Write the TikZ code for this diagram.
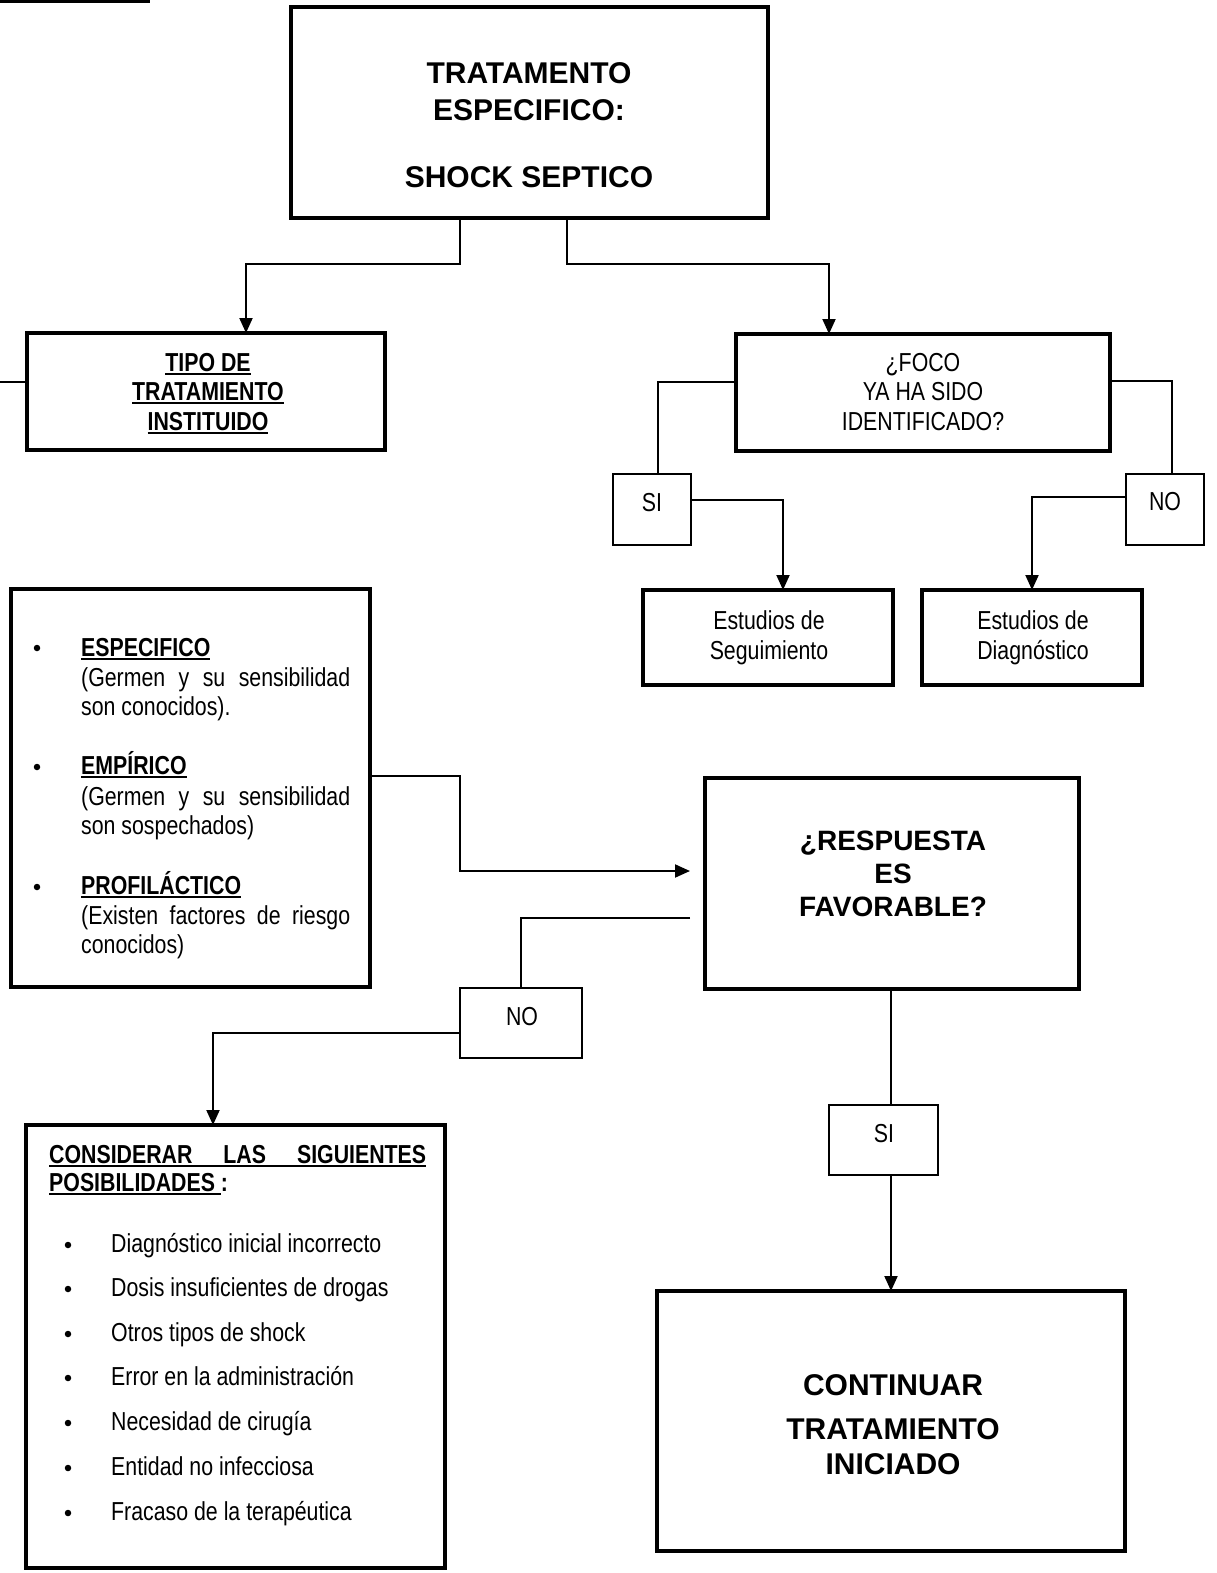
\documentclass[tikz,border=0pt]{standalone}
\usepackage{fontspec}
\setmainfont{Liberation Sans}
\newfontfamily\narrowfont[FakeStretch=0.82]{Liberation Sans}
\usetikzlibrary{arrows.meta}
% underline drawn as a heavier rule under the text
\newcommand\myul[1]{\setbox0\hbox{#1}\rlap{\rule[-4pt]{\wd0}{1.8pt}}\box0}

\begin{document}
\begin{tikzpicture}[x=1pt,y=-1pt,
  box/.style={draw, line width=3.2pt, inner sep=0, outer sep=0},
  tag/.style={draw, line width=1.6pt, inner sep=0, outer sep=0},
  conn/.style={line width=2pt},
  arr/.style={conn, -{Triangle[length=15pt,width=13pt]}},
  nt/.style={inner sep=0, anchor=base, font=\narrowfont\fontsize{26}{30}\selectfont},
  ntl/.style={nt, anchor=base west},
  ntb/.style={inner sep=0, anchor=base, font=\narrowfont\bfseries\fontsize{26}{30}\selectfont},
  ntbl/.style={ntb, anchor=base west},
  big/.style={inner sep=0, anchor=base, font=\bfseries\fontsize{30}{36}\selectfont},
  mid/.style={inner sep=0, anchor=base, font=\bfseries\fontsize{28}{34}\selectfont},
  bul/.style={circle, fill, inner sep=0, minimum size=6.5pt},
]
\useasboundingbox (0,0) rectangle (1216,1573);

% ---------- boxes ----------
\node[box, minimum width=477pt, minimum height=211pt] (main)    at (529.5,112.5) {};
\node[box, minimum width=358pt, minimum height=117pt] (tipo)    at (206,391.5) {};
\node[box, minimum width=374pt, minimum height=117pt] (foco)    at (923,392.5) {};
\node[tag, minimum width=78pt,  minimum height=71pt]  (si1)     at (652,509.5) {};
\node[tag, minimum width=78pt,  minimum height=71pt]  (no1)     at (1165,509.5) {};
\node[box, minimum width=250pt, minimum height=95pt]  (estseg)  at (768,637.5) {};
\node[box, minimum width=220pt, minimum height=95pt]  (estdiag) at (1032,637.5) {};
\node[box, minimum width=359pt, minimum height=398pt] (tipos)   at (190.5,788) {};
\node[box, minimum width=374pt, minimum height=211pt] (resp)    at (892,883.5) {};
\node[tag, minimum width=122pt, minimum height=70pt]  (no2)     at (521,1023) {};
\node[tag, minimum width=109pt, minimum height=70pt]  (si2)     at (883.5,1140) {};
\node[box, minimum width=419pt, minimum height=443pt] (cons)    at (235.5,1346.5) {};
\node[box, minimum width=468pt, minimum height=260pt] (cont)    at (891,1421) {};

% ---------- texts ----------
\node[big] (m1) at (529,84)  {TRATAMENTO};
\node[big] (m2) at (529,121) {ESPECIFICO:};
\node[big] (m3) at (529,188) {SHOCK SEPTICO};

\node[ntb] (ti1) at (208,371) {\myul{TIPO DE}};
\node[ntb] (ti2) at (208,400) {\myul{TRATAMIENTO}};
\node[ntb] (ti3) at (208,430) {\myul{INSTITUIDO}};

\node[nt] (fo1) at (923,371) {¿FOCO};
\node[nt] (fo2) at (923,400) {YA HA SIDO};
\node[nt] (fo3) at (923,430) {IDENTIFICADO?};

\node[nt] (si1t) at (652,511)  {SI};
\node[nt] (no1t) at (1165,510) {NO};

\node[nt] (es1) at (769,629)  {Estudios de};
\node[nt] (es2) at (769,659)  {Seguimiento};
\node[nt] (ed1) at (1033,629) {Estudios de};
\node[nt] (ed2) at (1033,659) {Diagnóstico};

\node[bul]  (b1) at (37,648) {};
\node[ntbl] (a1) at (81,656) {\myul{ESPECIFICO}};
\node[ntl]  (a2) at (81,686) {\makebox[269pt][s]{(Germen y su sensibilidad}};
\node[ntl]  (a3) at (81,715) {son conocidos).};
\node[bul]  (b2) at (37,767) {};
\node[ntbl] (a4) at (81,774) {\myul{EMPÍRICO}};
\node[ntl]  (a5) at (81,805) {\makebox[269pt][s]{(Germen y su sensibilidad}};
\node[ntl]  (a6) at (81,834) {son sospechados)};
\node[bul]  (b3) at (37,887) {};
\node[ntbl] (a7) at (81,894) {\myul{PROFILÁCTICO}};
\node[ntl]  (a8) at (81,924) {\makebox[269pt][s]{(Existen factores de riesgo}};
\node[ntl]  (a9) at (81,953) {conocidos)};

\node[mid] (r1) at (893,850) {¿RESPUESTA};
\node[mid] (r2) at (893,883) {ES};
\node[mid] (r3) at (893,916) {FAVORABLE?};

\node[nt] (no2t) at (522,1025) {NO};
\node[nt] (si2t) at (884,1142) {SI};

\node[ntbl] (c0) at (49,1163) {\myul{\makebox[377pt][s]{CONSIDERAR LAS SIGUIENTES}}};
\node[ntbl] (c00) at (49,1191) {\myul{POSIBILIDADES\ }:};
\foreach \y/\t [count=\i] in {1252/Diagnóstico inicial incorrecto,
    1296/Dosis insuficientes de drogas,
    1341/Otros tipos de shock,
    1385/Error en la administración,
    1430/Necesidad de cirugía,
    1475/Entidad no infecciosa,
    1520/Fracaso de la terapéutica}{
  \node[bul] (cb\i) at (68,\y-7) {};
  \node[ntl] (ct\i) at (111,\y) {\t};
}

\node[big] (k1) at (893,1395) {CONTINUAR};
\node[big] (k2) at (893,1439) {TRATAMIENTO};
\node[big] (k3) at (893,1474) {INICIADO};

% ---------- connectors ----------
\coordinate (tl1) at (0,2);
\coordinate (tl2) at (150,2);
\draw[line width=3pt] (tl1) -- (tl2);

\coordinate (j1) at (460,264);
\coordinate (t1) at (246,264);
\draw[arr] (main.south -| j1) -- (j1) -- (t1) -- (tipo.north -| t1);
\coordinate (j2) at (567,264);
\coordinate (t2) at (829,264);
\draw[arr] (main.south -| j2) -- (j2) -- (t2) -- (foco.north -| t2);

\coordinate (edgeL) at (0,382);
\draw[conn] (tipo.west |- edgeL) -- (edgeL);

\coordinate (f1) at (658,382);
\draw[conn] (foco.west |- f1) -- (f1) -- (si1.north -| f1);
\coordinate (s1) at (783,500);
\draw[arr] (si1.east |- s1) -- (s1) -- (estseg.north -| s1);

\coordinate (f2) at (1172,381);
\draw[conn] (foco.east |- f2) -- (f2) -- (no1.north -| f2);
\coordinate (n1) at (1032,497);
\draw[arr] (no1.west |- n1) -- (n1) -- (estdiag.north -| n1);

\coordinate (p1) at (460,776);
\coordinate (p2) at (460,871);
\draw[arr, shorten >=15pt] (tipos.east |- p1) -- (p1) -- (p2) -- (resp.west |- p2);

\coordinate (q1) at (521,918);
\draw[conn, shorten <=15pt] (resp.west |- q1) -- (q1) -- (no2.north -| q1);
\coordinate (q2) at (213,1033);
\draw[arr] (no2.west |- q2) -- (q2) -- (cons.north -| q2);

\coordinate (v1) at (891,1000);
\draw[conn] (resp.south -| v1) -- (si2.north -| v1);
\draw[arr] (si2.south -| v1) -- (cont.north -| v1);
\end{tikzpicture}
\end{document}
